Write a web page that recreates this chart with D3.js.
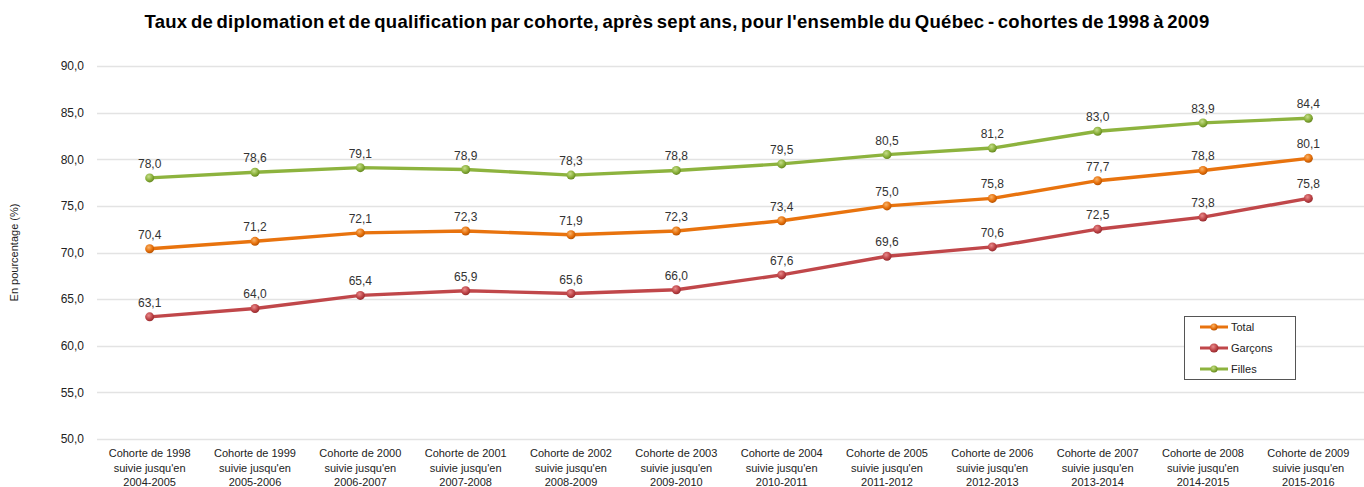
<!DOCTYPE html>
<html>
<head>
<meta charset="utf-8">
<script src="https://cdn.jsdelivr.net/npm/d3@7"></script>
<style>
  body { margin: 0; background: #fff; }
  svg { font-family: "Liberation Sans", Arial, sans-serif; }
</style>
</head>
<body>
<div id="chart"></div>
<script>
// données
const cohortes = [
  ["Cohorte de 1998", "suivie jusqu'en", "2004-2005"],
  ["Cohorte de 1999", "suivie jusqu'en", "2005-2006"],
  ["Cohorte de 2000", "suivie jusqu'en", "2006-2007"],
  ["Cohorte de 2001", "suivie jusqu'en", "2007-2008"],
  ["Cohorte de 2002", "suivie jusqu'en", "2008-2009"],
  ["Cohorte de 2003", "suivie jusqu'en", "2009-2010"],
  ["Cohorte de 2004", "suivie jusqu'en", "2010-2011"],
  ["Cohorte de 2005", "suivie jusqu'en", "2011-2012"],
  ["Cohorte de 2006", "suivie jusqu'en", "2012-2013"],
  ["Cohorte de 2007", "suivie jusqu'en", "2013-2014"],
  ["Cohorte de 2008", "suivie jusqu'en", "2014-2015"],
  ["Cohorte de 2009", "suivie jusqu'en", "2015-2016"]
];
const total   = [70.4, 71.2, 72.1, 72.3, 71.9, 72.3, 73.4, 75.0, 75.8, 77.7, 78.8, 80.1];
const garcons = [63.1, 64.0, 65.4, 65.9, 65.6, 66.0, 67.6, 69.6, 70.6, 72.5, 73.8, 75.8];
const filles  = [78.0, 78.6, 79.1, 78.9, 78.3, 78.8, 79.5, 80.5, 81.2, 83.0, 83.9, 84.4];
const yTicks  = [50, 55, 60, 65, 70, 75, 80, 85, 90];

const series = [
  { nom: "Total",   valeurs: total,   couleur: "#e8730e", fonce: "#b85300", clair: "#f7b36a" },
  { nom: "Garçons", valeurs: garcons, couleur: "#c0474a", fonce: "#962a2e", clair: "#e88a8b" },
  { nom: "Filles",  valeurs: filles,  couleur: "#8db33e", fonce: "#65881f", clair: "#c6dd8a" }
];

const width = 1364, height = 487;
const margin = { top: 66, right: 3, bottom: 48, left: 97 };

const svg = d3.select("#chart").append("svg")
  .attr("width", width)
  .attr("height", height);

// dégradés pour les marqueurs
const defs = svg.append("defs");
series.forEach((s, i) => {
  const g = defs.append("radialGradient")
    .attr("id", "grad" + i)
    .attr("cx", "40%").attr("cy", "35%").attr("r", "65%");
  g.append("stop").attr("offset", "0%").attr("stop-color", s.clair);
  g.append("stop").attr("offset", "60%").attr("stop-color", s.couleur);
  g.append("stop").attr("offset", "100%").attr("stop-color", s.fonce);
});

const x = d3.scaleBand()
  .domain(d3.range(cohortes.length))
  .range([margin.left, width - margin.right]);

const y = d3.scaleLinear()
  .domain([50, 90])
  .range([height - margin.bottom, margin.top]);

const fmt = v => d3.format(".1f")(v).replace(".", ",");

// titre
svg.append("text")
  .attr("x", 677)
  .attr("y", 28)
  .attr("text-anchor", "middle")
  .attr("font-size", 18.5)
  .attr("font-weight", "bold")
  .attr("letter-spacing", 0.3)
  .attr("word-spacing", -2)
  .attr("fill", "#000")
  .text("Taux de diplomation et de qualification par cohorte, après sept ans, pour l'ensemble du Québec - cohortes de 1998 à 2009");

// grille
svg.append("g")
  .selectAll("line")
  .data(yTicks)
  .enter().append("line")
  .attr("x1", margin.left)
  .attr("x2", width)
  .attr("y1", d => Math.round(y(d)) + 0.5)
  .attr("y2", d => Math.round(y(d)) + 0.5)
  .attr("stroke", "#e3e3e3")
  .attr("stroke-width", 1.5);

// axe y
const yAxis = svg.append("g")
  .attr("transform", `translate(${margin.left - 10},0)`)
  .call(d3.axisLeft(y).tickValues(yTicks).tickFormat(fmt).tickSize(0));
yAxis.select(".domain").remove();
yAxis.selectAll("text")
  .attr("font-size", 12)
  .attr("font-family", "Liberation Sans, Arial, sans-serif")
  .attr("fill", "#222");

svg.append("text")
  .attr("transform", `translate(18,${(margin.top + height - margin.bottom) / 2}) rotate(-90)`)
  .attr("text-anchor", "middle")
  .attr("font-size", 11)
  .attr("fill", "#222")
  .text("En pourcentage (%)");

// étiquettes x
const xLab = svg.append("g").selectAll("text")
  .data(cohortes)
  .enter().append("text")
  .attr("text-anchor", "middle")
  .attr("font-size", 11)
  .attr("fill", "#222");
xLab.each(function(d, i) {
  const t = d3.select(this);
  d.forEach((ligne, k) => {
    t.append("tspan")
      .attr("x", x(i) + x.bandwidth() / 2)
      .attr("y", 457 + k * 14.5)
      .text(ligne);
  });
});

// lignes
const line = d3.line()
  .x((d, i) => x(i) + x.bandwidth() / 2)
  .y(d => y(d));

series.forEach((s, si) => {
  const g = svg.append("g");
  g.append("path")
    .datum(s.valeurs)
    .attr("d", line)
    .attr("fill", "none")
    .attr("stroke", s.couleur)
    .attr("stroke-width", 3.4)
    .attr("stroke-linejoin", "round");

  g.selectAll("circle")
    .data(s.valeurs)
    .enter().append("circle")
    .attr("cx", (d, i) => x(i) + x.bandwidth() / 2)
    .attr("cy", d => y(d))
    .attr("r", 4.5)
    .attr("fill", `url(#grad${si})`);

  g.selectAll("text")
    .data(s.valeurs)
    .enter().append("text")
    .attr("x", (d, i) => x(i) + x.bandwidth() / 2)
    .attr("y", d => y(d) - 10)
    .attr("text-anchor", "middle")
    .attr("font-size", 12)
    .attr("fill", "#333")
    .text(fmt);
});

// légende
const leg = svg.append("g").attr("transform", "translate(1184,316)");
leg.append("rect")
  .attr("x", 0.5).attr("y", 0.5)
  .attr("width", 111).attr("height", 63)
  .attr("fill", "#fff")
  .attr("stroke", "#555")
  .attr("stroke-width", 1);
series.forEach((s, si) => {
  const ly = 11 + si * 21;
  leg.append("line")
    .attr("x1", 16).attr("x2", 44)
    .attr("y1", ly).attr("y2", ly)
    .attr("stroke", s.couleur)
    .attr("stroke-width", 3);
  leg.append("circle")
    .attr("cx", 30).attr("cy", ly)
    .attr("r", si === 1 ? 4.5 : 3.5)
    .attr("fill", `url(#grad${si})`);
  leg.append("text")
    .attr("x", 47).attr("y", ly + 4)
    .attr("font-size", 11)
    .attr("fill", "#222")
    .text(s.nom);
});
</script>
</body>
</html>
